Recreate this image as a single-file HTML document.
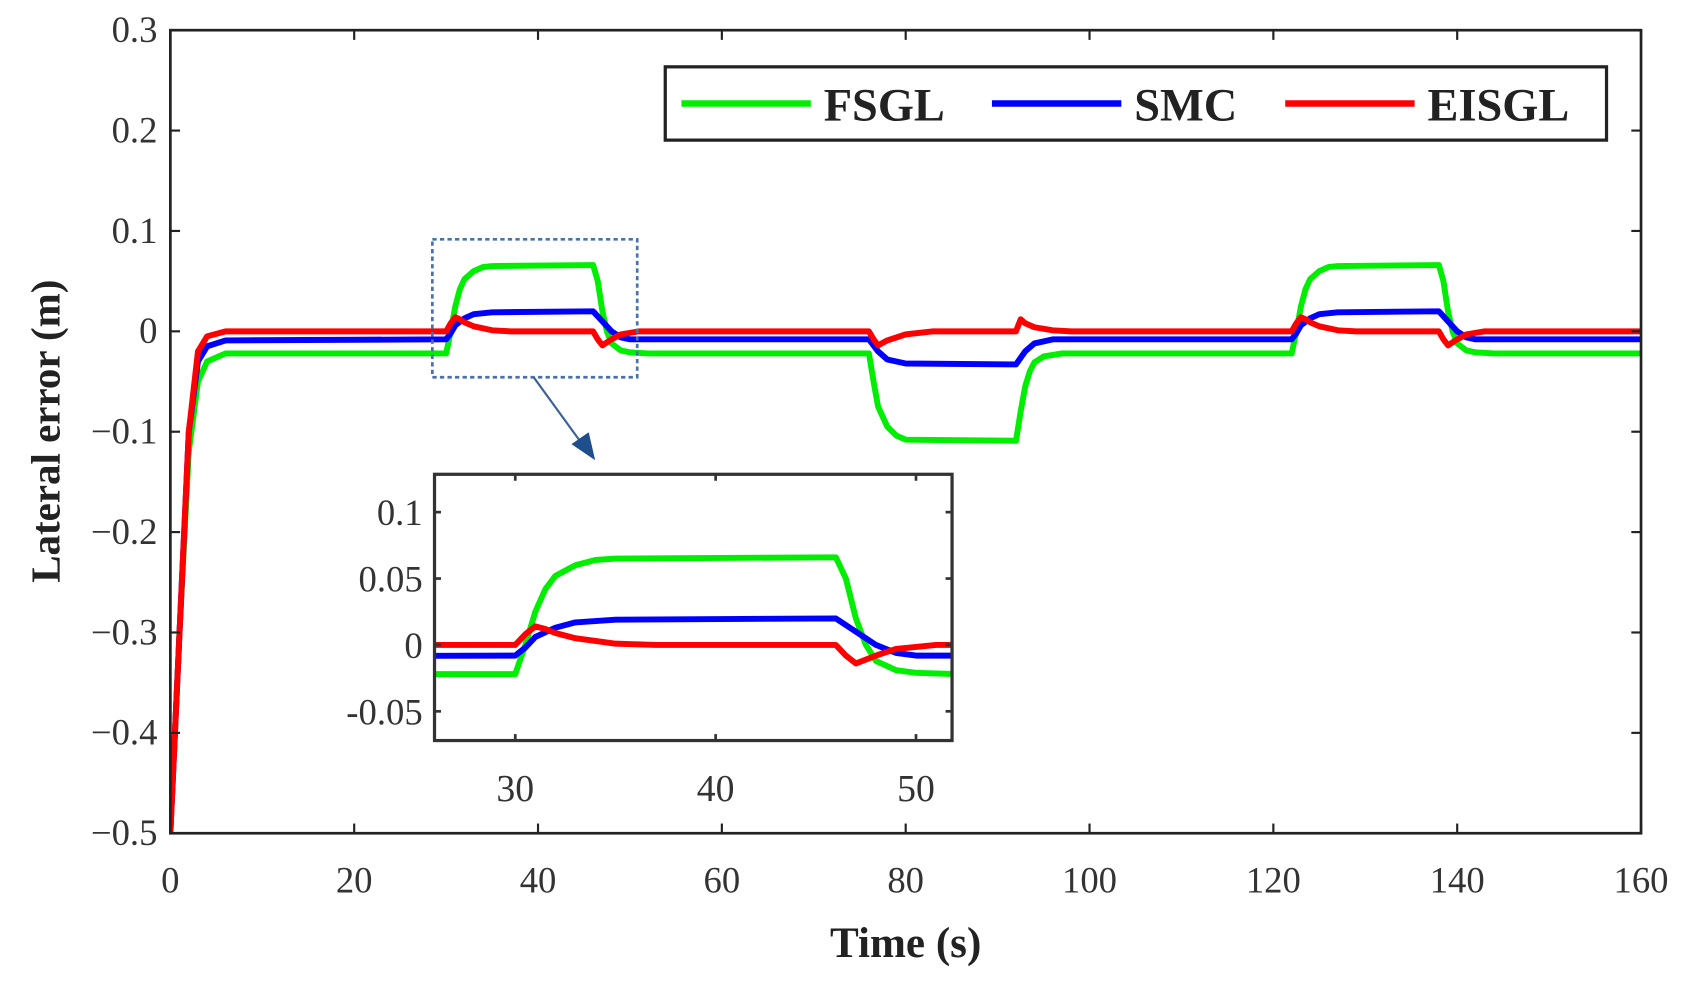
<!DOCTYPE html>
<html><head><meta charset="utf-8"><style>
html,body{margin:0;padding:0;background:#fff;width:1682px;height:982px;overflow:hidden;}
svg{display:block;font-family:"Liberation Serif",serif;}
</style></head><body>
<svg id="chart" width="1682" height="982" viewBox="0 0 1560 911" preserveAspectRatio="none" xmlns="http://www.w3.org/2000/svg">
<defs>
<clipPath id="mainClip"><rect x="158" y="28" width="1364" height="745"/></clipPath>
<clipPath id="insetClip"><rect x="403" y="440" width="480" height="247"/></clipPath>
</defs>
<g id="main"></g>
<g id="inset"></g>
</svg>
<script>
const fsglT=[0,1,2,3,4,6,30,30.5,31,31.5,32,33,34,35,46,46.5,47,47.5,48,49,50,52,76,76.5,77,78,79,80,92,92.5,93,93.5,94,95,97,122,122.5,123,123.5,124,125,126,127,138,138.5,139,139.5,140,141,142,144,160];
const fsglV=[-0.5,-0.3,-0.12,-0.05,-0.03,-0.022,-0.022,0.0,0.025,0.042,0.052,0.06,0.064,0.065,0.066,0.05,0.02,0.0,-0.012,-0.019,-0.021,-0.022,-0.022,-0.05,-0.075,-0.095,-0.104,-0.108,-0.109,-0.08,-0.055,-0.04,-0.031,-0.025,-0.022,-0.022,0.0,0.025,0.042,0.052,0.06,0.064,0.065,0.066,0.05,0.02,0.0,-0.012,-0.019,-0.021,-0.022,-0.022];
const smcT=[0,1,2,3,4,6,30,30.5,31,32,33,35,46,47,48,49,50,52,76,77,78,80,92,93,94,96,122,122.5,123,124,125,127,138,139,140,141,142,144,160];
const smcV=[-0.5,-0.3,-0.1,-0.03,-0.015,-0.009,-0.008,-0.002,0.006,0.013,0.017,0.019,0.02,0.01,0.0,-0.006,-0.008,-0.008,-0.008,-0.02,-0.028,-0.032,-0.033,-0.02,-0.012,-0.008,-0.008,-0.002,0.006,0.013,0.017,0.019,0.02,0.01,0.0,-0.006,-0.008,-0.008,-0.008];
const eisglT=[0,1,2,3,4,6,30,30.5,31,31.5,32,33,35,37,46,46.5,47,48,49,51,76,76.5,77,78,80,83,92,92.5,93,94,96,98,122,122.5,123,123.5,124,125,127,129,138,138.5,139,140,141,143,160];
const eisglV=[-0.5,-0.3,-0.1,-0.02,-0.005,0,0,0.008,0.014,0.012,0.009,0.005,0.001,0,0,-0.008,-0.014,-0.008,-0.003,0,0,-0.008,-0.014,-0.009,-0.003,0,0,0.012,0.008,0.004,0.001,0,0,0.008,0.014,0.012,0.009,0.005,0.001,0,0,-0.008,-0.014,-0.008,-0.003,0,0];
const mainXTicks=[0,20,40,60,80,100,120,140,160];
const mainYTicks=[0.3,0.2,0.1,0,-0.1,-0.2,-0.3,-0.4,-0.5];
const insetXTicks=[30,40,50];
const insetYTicks=[0.1,0.05,0,-0.05];
const legendLabels=["FSGL","SMC","EISGL"];

const NS="http://www.w3.org/2000/svg";
function mk(tag,attrs,parent){const e=document.createElementNS(NS,tag);for(const k in attrs)e.setAttribute(k,attrs[k]);parent.appendChild(e);return e;}
const colors=["#00ee00","#0000ff","#ff0000"];
const series=[[fsglT,fsglV],[smcT,smcV],[eisglT,eisglV]];
const seriesNames=["fsgl-line","smc-line","eisgl-line"];

const M={x0:158,x1:1522,y0:28,y1:773,xmin:0,xmax:160,ymin:-0.5,ymax:0.3};
const mx=t=>M.x0+(t-M.xmin)/(M.xmax-M.xmin)*(M.x1-M.x0);
const my=v=>M.y1-(v-M.ymin)/(M.ymax-M.ymin)*(M.y1-M.y0);
const main=document.getElementById('main');
const mlines=mk('g',{'clip-path':'url(#mainClip)'},main);
series.forEach((s,i)=>{
  const pts=s[0].map((t,j)=>mx(t).toFixed(1)+','+my(s[1][j]).toFixed(1)).join(' ');
  const p=mk('polyline',{points:pts,fill:'none',stroke:colors[i],'stroke-width':5.5,'stroke-linejoin':'round','stroke-linecap':'round'},mlines);
  
  
});
const frame=mk('rect',{x:M.x0,y:M.y0,width:M.x1-M.x0,height:M.y1-M.y0,fill:'none',stroke:'#222','stroke-width':2.5},main);


mainXTicks.forEach(t=>{
  const x=mx(t);
  mk('line',{x1:x,y1:M.y1,x2:x,y2:M.y1-9,stroke:'#222','stroke-width':2},main);
  mk('line',{x1:x,y1:M.y0,x2:x,y2:M.y0+9,stroke:'#222','stroke-width':2},main);
  const tx=mk('text',{x:x,y:828,'text-anchor':'middle','font-size':34,fill:'#333'},main);
  tx.textContent=String(t);
  
  
});
mainYTicks.forEach(v=>{
  const y=my(v);
  mk('line',{x1:M.x0,y1:y,x2:M.x0+9,y2:y,stroke:'#222','stroke-width':2},main);
  mk('line',{x1:M.x1,y1:y,x2:M.x1-9,y2:y,stroke:'#222','stroke-width':2},main);
  const tx=mk('text',{x:146,y:y+11,'text-anchor':'end','font-size':34,fill:'#333'},main);
  tx.textContent=(v<0?'\u2212':'')+String(Math.abs(v));
  
  
});
const xt=mk('text',{x:840,y:888,'text-anchor':'middle','font-size':40,'font-weight':'bold',fill:'#222'},main);
xt.textContent='Time (s)';


const yt=mk('text',{x:0,y:0,'text-anchor':'middle','font-size':38,'font-weight':'bold',fill:'#222',transform:'translate(55,400) rotate(-90)'},main);
yt.textContent='Lateral error (m)';



const lg=mk('g',{},main);


mk('rect',{x:617,y:62,width:873,height:68,fill:'#fff',stroke:'#222','stroke-width':3},lg);
const lx=[632,920,1192];
legendLabels.forEach((name,i)=>{
  const g=mk('g',{},lg);
  
  
  mk('line',{x1:lx[i],y1:96,x2:lx[i]+120,y2:96,stroke:colors[i],'stroke-width':6},g);
  const t=mk('text',{x:lx[i]+132,y:112,'font-size':43,'font-weight':'bold',fill:'#222'},g);
  t.textContent=name;
});

const zb=mk('rect',{x:401,y:222,width:190,height:128,fill:'none',stroke:'#4a72a8','stroke-width':2.5,'stroke-dasharray':'4,3'},main);


const ar=mk('line',{x1:495,y1:350,x2:540,y2:412,stroke:'#3a6296','stroke-width':2},main);


mk('polygon',{points:'552,427 530,412 546,401',fill:'#1f4e8c'},main);

const I={x0:403,x1:883,y0:440,y1:687,xmin:25.97,xmax:51.8,ymin:-0.072,ymax:0.1285};
const ix=t=>I.x0+(t-I.xmin)/(I.xmax-I.xmin)*(I.x1-I.x0);
const iy=v=>I.y1-(v-I.ymin)/(I.ymax-I.ymin)*(I.y1-I.y0);
const inset=document.getElementById('inset');
mk('rect',{x:I.x0,y:I.y0,width:I.x1-I.x0,height:I.y1-I.y0,fill:'#fff'},inset);
const ilines=mk('g',{'clip-path':'url(#insetClip)'},inset);
series.forEach((s,i)=>{
  const pts=s[0].map((t,j)=>ix(t).toFixed(1)+','+iy(s[1][j]).toFixed(1)).join(' ');
  const p=mk('polyline',{points:pts,fill:'none',stroke:colors[i],'stroke-width':5.5,'stroke-linejoin':'round'},ilines);
  
  
});
mk('rect',{x:I.x0,y:I.y0,width:I.x1-I.x0,height:I.y1-I.y0,fill:'none',stroke:'#333','stroke-width':3},inset);
insetXTicks.forEach(t=>{
  const x=ix(t);
  mk('line',{x1:x,y1:I.y1,x2:x,y2:I.y1-6,stroke:'#333','stroke-width':2.5},inset);
  mk('line',{x1:x,y1:I.y0,x2:x,y2:I.y0+6,stroke:'#333','stroke-width':2.5},inset);
  const tx=mk('text',{x:x,y:743,'text-anchor':'middle','font-size':35,fill:'#333'},inset);
  tx.textContent=String(t);
  
  
});
insetYTicks.forEach(v=>{
  const y=iy(v);
  mk('line',{x1:I.x0,y1:y,x2:I.x0+6,y2:y,stroke:'#333','stroke-width':2.5},inset);
  mk('line',{x1:I.x1,y1:y,x2:I.x1-6,y2:y,stroke:'#333','stroke-width':2.5},inset);
  const tx=mk('text',{x:392,y:y+12,'text-anchor':'end','font-size':34,fill:'#333'},inset);
  tx.textContent=(v<0?'-':'')+String(Math.abs(v));
  
  
});
</script>
</body></html>
